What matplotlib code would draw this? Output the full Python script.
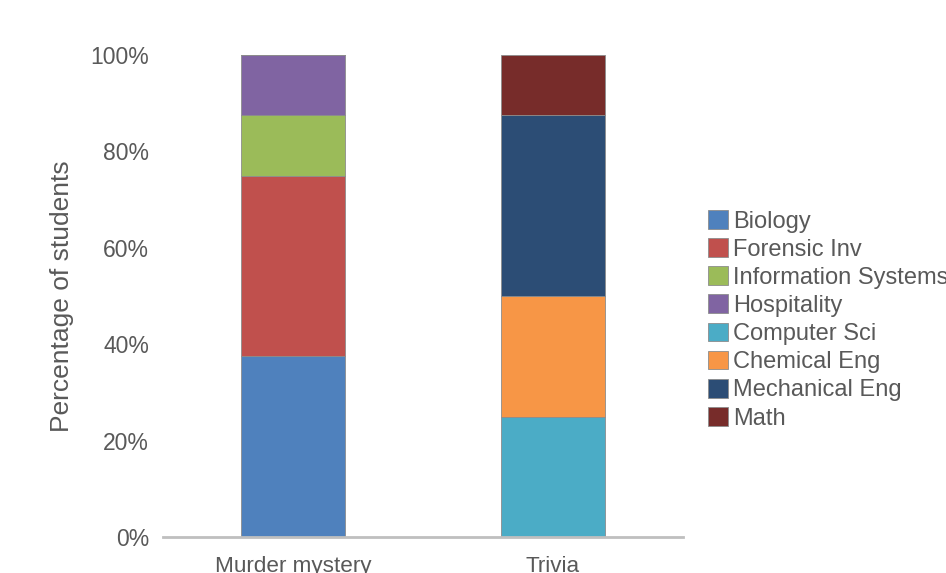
import matplotlib.pyplot as plt
from matplotlib.ticker import PercentFormatter

plt.rcParams['font.family'] = ['Liberation Sans', 'DejaVu Sans']

# Share of students per activity, by programme
activities = ['Murder mystery', 'Trivia']
programmes = ['Biology', 'Forensic Inv', 'Information Systems', 'Hospitality',
              'Computer Sci', 'Chemical Eng', 'Mechanical Eng', 'Math']
biology = [37.5, 0]
forensic = [37.5, 0]
info_systems = [12.5, 0]
hospitality = [12.5, 0]
computer_sci = [0, 25]
chemical_eng = [0, 25]
mechanical_eng = [0, 37.5]
math = [0, 12.5]

series = [biology, forensic, info_systems, hospitality,
          computer_sci, chemical_eng, mechanical_eng, math]
colors = ['#4F81BD', '#C0504D', '#9BBB59', '#8064A2',
          '#4BACC6', '#F79646', '#2C4D75', '#772C2A']

fig = plt.figure(figsize=(9.46, 5.73), dpi=100)
ax = fig.add_axes([0.1723, 0.0628, 0.5497, 0.8412])

x = list(range(len(activities)))
bottom = [0.0] * len(activities)
for name, vals, col in zip(programmes, series, colors):
    ax.bar(x, vals, width=0.4, bottom=bottom, color=col, label=name,
           edgecolor='#8C8C8C', linewidth=0.6)
    bottom = [b + v for b, v in zip(bottom, vals)]

ax.set_xlim(-0.5, 1.5)
ax.set_ylim(0, 100)
ax.set_yticks([0, 20, 40, 60, 80, 100])
ax.yaxis.set_major_formatter(PercentFormatter(decimals=0))
ax.set_xticks(x)
ax.set_xticklabels(activities)
ax.tick_params(axis='y', length=0, labelsize=16.5, labelcolor='#595959', pad=10)
ax.tick_params(axis='x', length=0, labelsize=16.2, labelcolor='#595959', pad=14)
ax.set_ylabel('Percentage of students', fontsize=19, color='#595959', labelpad=12)

for side in ['top', 'right', 'left']:
    ax.spines[side].set_visible(False)
ax.spines['bottom'].set_color('#BFBFBF')
ax.spines['bottom'].set_linewidth(2)

# legend sits to the right of the plot and runs off the figure edge
ax.legend(loc='center left', bbox_to_anchor=(0.7385, 0.442), bbox_transform=fig.transFigure,
          frameon=False, fontsize=17, labelcolor='#595959', handlelength=0.85,
          handleheight=0.85, handletextpad=0.2, labelspacing=0.235, borderaxespad=0)

fig.savefig('out.png', dpi=100)
